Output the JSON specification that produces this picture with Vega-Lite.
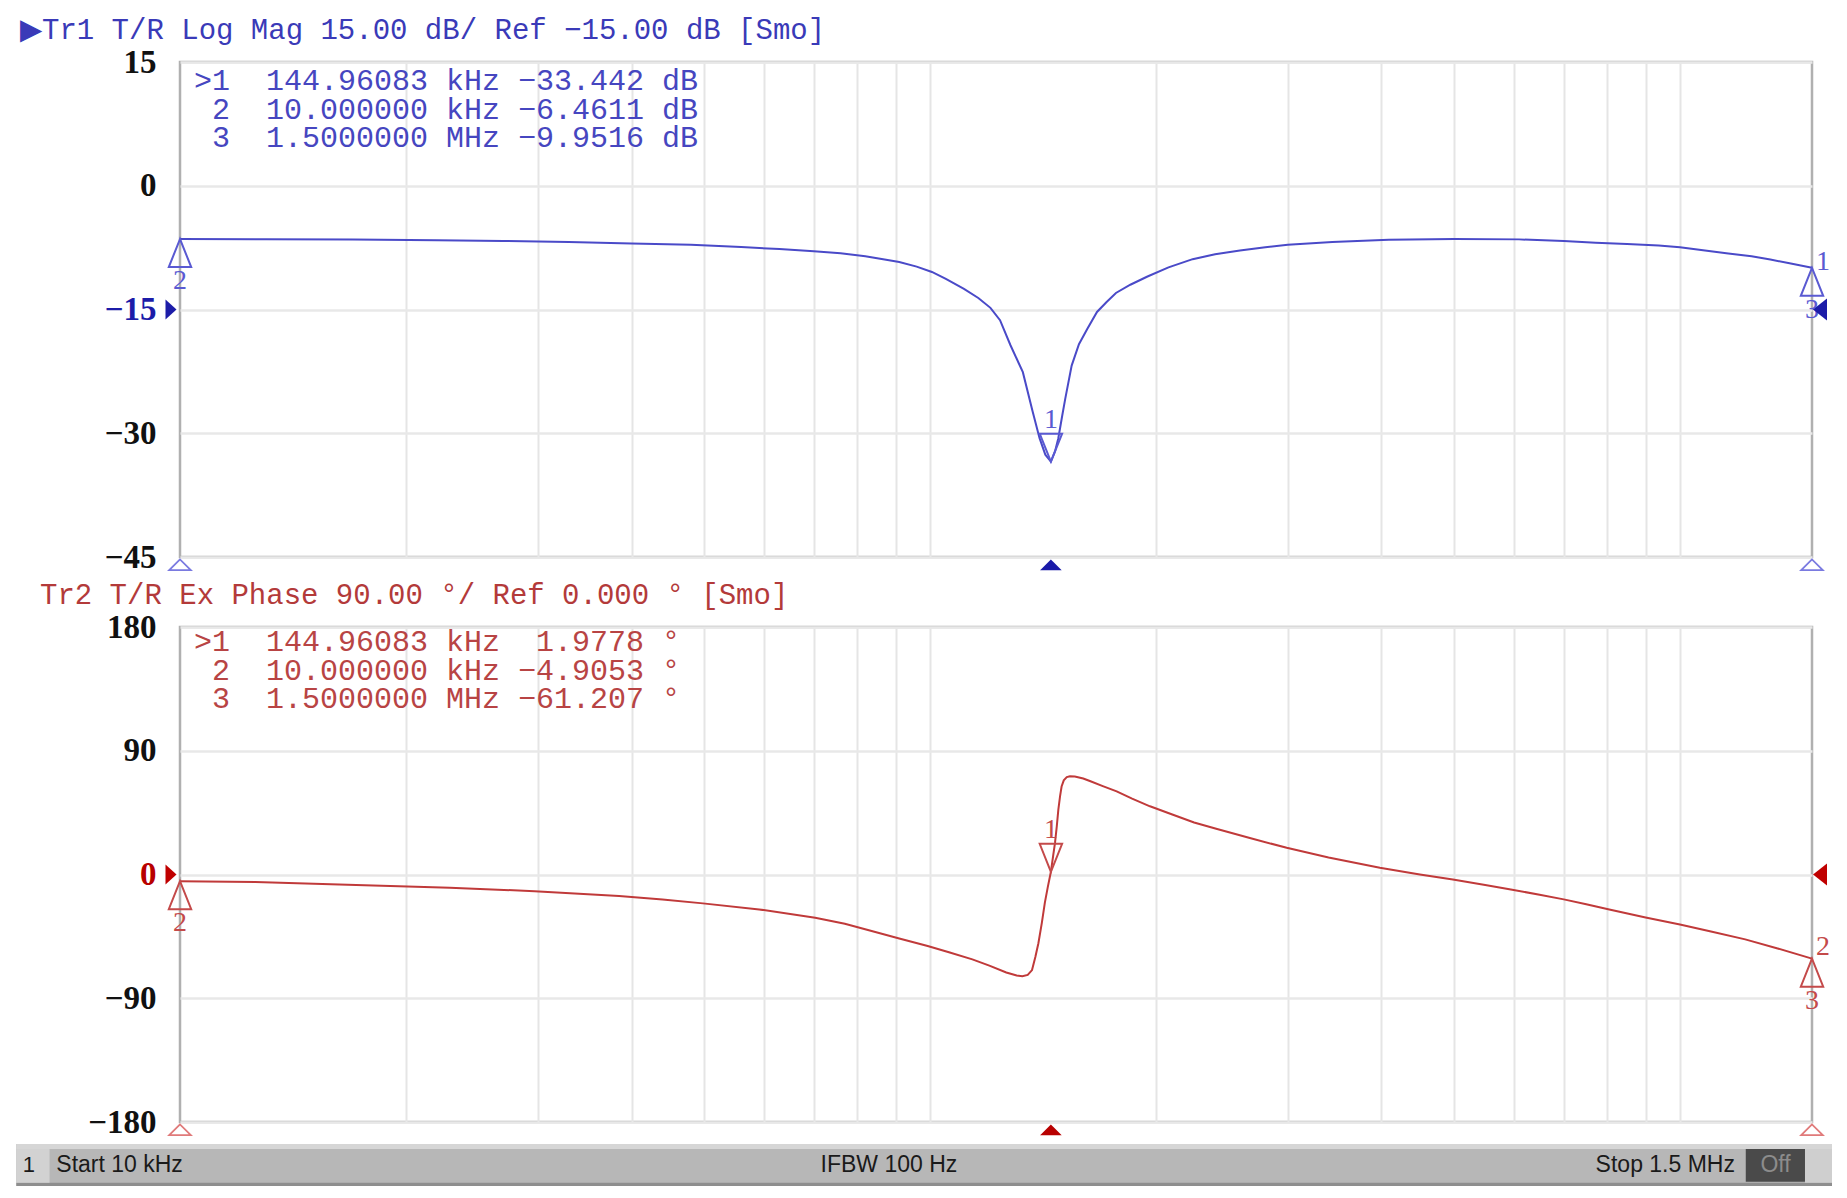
{
  "$schema": "https://vega.github.io/schema/vega-lite/v6.json",
  "background": "white",
  "padding": {"left": 16, "top": 14, "right": 15, "bottom": 16},
  "spacing": 3,
  "resolve": {"scale": {"x": "independent", "y": "independent"}},
  "config": {
    "view": {"stroke": "#b0b0b0", "strokeWidth": 2.5},
    "title": {"font": "Liberation Mono", "fontSize": 29, "fontWeight": "normal", "anchor": "start", "frame": "group", "baseline": "bottom", "offset": 1}
  },
  "datasets": {
    "mag": [
      {"freq": 10000, "db": -6.46}, {"freq": 13000, "db": -6.49}, {"freq": 17000, "db": -6.53}, {"freq": 22000, "db": -6.6},
      {"freq": 27000, "db": -6.7}, {"freq": 33000, "db": -6.82}, {"freq": 40000, "db": -7.0}, {"freq": 48000, "db": -7.15},
      {"freq": 56000, "db": -7.42}, {"freq": 63000, "db": -7.68}, {"freq": 70000, "db": -7.93}, {"freq": 76000, "db": -8.18},
      {"freq": 82000, "db": -8.55}, {"freq": 87000, "db": -8.95}, {"freq": 91000, "db": -9.25}, {"freq": 96000, "db": -9.8},
      {"freq": 100600, "db": -10.45}, {"freq": 105000, "db": -11.3}, {"freq": 111000, "db": -12.5}, {"freq": 116000, "db": -13.6},
      {"freq": 120400, "db": -14.8}, {"freq": 124000, "db": -16.3}, {"freq": 128000, "db": -19.3}, {"freq": 133000, "db": -22.6},
      {"freq": 137000, "db": -27.3}, {"freq": 140000, "db": -30.6}, {"freq": 142500, "db": -32.6}, {"freq": 144960, "db": -33.44},
      {"freq": 146800, "db": -32.2}, {"freq": 148300, "db": -30.6}, {"freq": 150000, "db": -28.0}, {"freq": 151500, "db": -25.8},
      {"freq": 154500, "db": -21.8}, {"freq": 158000, "db": -19.2}, {"freq": 162000, "db": -17.4}, {"freq": 167000, "db": -15.3},
      {"freq": 172000, "db": -14.1}, {"freq": 177000, "db": -13.0}, {"freq": 185000, "db": -12.0}, {"freq": 195000, "db": -11.0},
      {"freq": 208000, "db": -9.9}, {"freq": 224000, "db": -8.9}, {"freq": 240000, "db": -8.3}, {"freq": 259000, "db": -7.85},
      {"freq": 280000, "db": -7.45}, {"freq": 300000, "db": -7.15}, {"freq": 344000, "db": -6.83}, {"freq": 409000, "db": -6.55},
      {"freq": 500000, "db": -6.45}, {"freq": 610000, "db": -6.5}, {"freq": 700000, "db": -6.7}, {"freq": 772000, "db": -6.9},
      {"freq": 850000, "db": -7.05}, {"freq": 937000, "db": -7.24}, {"freq": 1000000, "db": -7.45}, {"freq": 1080000, "db": -7.85},
      {"freq": 1160000, "db": -8.2}, {"freq": 1246000, "db": -8.55}, {"freq": 1320000, "db": -8.95}, {"freq": 1400000, "db": -9.4},
      {"freq": 1500000, "db": -9.95}
    ],
    "phase": [
      {"freq": 10000, "deg": -4.9}, {"freq": 12600, "deg": -5.5}, {"freq": 16300, "deg": -7.3}, {"freq": 22900, "deg": -9.7},
      {"freq": 29700, "deg": -12.1}, {"freq": 38500, "deg": -15.7}, {"freq": 44000, "deg": -18.2}, {"freq": 49800, "deg": -21.0},
      {"freq": 59200, "deg": -25.4}, {"freq": 70300, "deg": -31.4}, {"freq": 77000, "deg": -35.8}, {"freq": 83600, "deg": -41.1},
      {"freq": 91000, "deg": -46.5}, {"freq": 99300, "deg": -52.0}, {"freq": 106000, "deg": -56.6}, {"freq": 113900, "deg": -61.7},
      {"freq": 120000, "deg": -66.3}, {"freq": 126400, "deg": -71.3}, {"freq": 130500, "deg": -73.5}, {"freq": 132800, "deg": -74.0},
      {"freq": 135000, "deg": -73.0}, {"freq": 136800, "deg": -69.5}, {"freq": 138200, "deg": -60.0}, {"freq": 139500, "deg": -50.0},
      {"freq": 141000, "deg": -35.0}, {"freq": 142300, "deg": -20.5}, {"freq": 143600, "deg": -9.0}, {"freq": 144960, "deg": 1.98},
      {"freq": 146000, "deg": 14.0}, {"freq": 146800, "deg": 23.0}, {"freq": 147600, "deg": 35.0}, {"freq": 148300, "deg": 47.0},
      {"freq": 149100, "deg": 57.0}, {"freq": 149800, "deg": 64.0}, {"freq": 150800, "deg": 68.5}, {"freq": 152200, "deg": 70.8},
      {"freq": 153700, "deg": 71.4}, {"freq": 156000, "deg": 71.2}, {"freq": 160100, "deg": 69.8}, {"freq": 163700, "deg": 67.8},
      {"freq": 170000, "deg": 64.3}, {"freq": 177400, "deg": 60.5}, {"freq": 186000, "deg": 55.2}, {"freq": 196500, "deg": 49.6},
      {"freq": 210000, "deg": 43.8}, {"freq": 225000, "deg": 37.8}, {"freq": 240800, "deg": 33.3}, {"freq": 267000, "deg": 26.5},
      {"freq": 299000, "deg": 19.4}, {"freq": 340000, "deg": 12.4}, {"freq": 398000, "deg": 4.9}, {"freq": 450000, "deg": 0.0},
      {"freq": 498000, "deg": -3.6}, {"freq": 550000, "deg": -7.6}, {"freq": 595000, "deg": -10.9}, {"freq": 650000, "deg": -14.7},
      {"freq": 700000, "deg": -18.1}, {"freq": 750000, "deg": -21.6}, {"freq": 805000, "deg": -25.4}, {"freq": 900000, "deg": -31.2},
      {"freq": 1000000, "deg": -36.3}, {"freq": 1100000, "deg": -41.4}, {"freq": 1222000, "deg": -47.2}, {"freq": 1350000, "deg": -53.8},
      {"freq": 1500000, "deg": -61.2}
    ],
    "magMarkers": [
      {"id": "1", "freq": 144960.83, "db": -33.442},
      {"id": "2", "freq": 10000, "db": -6.4611},
      {"id": "3", "freq": 1500000, "db": -9.9516}
    ],
    "phaseMarkers": [
      {"id": "1", "freq": 144960.83, "deg": 1.9778},
      {"id": "2", "freq": 10000, "deg": -4.9053},
      {"id": "3", "freq": 1500000, "deg": -61.207}
    ],
    "stim": [
      {"freq": 10000, "kind": "start"},
      {"freq": 144960.83, "kind": "active"},
      {"freq": 1500000, "kind": "stop"}
    ],
    "magRef": [
      {"freq": 10000, "db": -15, "side": "left"},
      {"freq": 1500000, "db": -15, "side": "right"}
    ],
    "phaseRef": [
      {"freq": 10000, "deg": 0, "side": "left"},
      {"freq": 1500000, "deg": 0, "side": "right"}
    ]
  },
  "vconcat": [
    {
      "width": 1632,
      "height": 495,
      "title": {"text": "▶Tr1 T/R Log Mag 15.00 dB/ Ref −15.00 dB [Smo]", "color": "#3a3ab8", "dx": -160},
      "layer": [
        {
          "data": {"name": "mag"},
          "mark": {"type": "line", "color": "#4a4ac8", "strokeWidth": 2},
          "encoding": {
            "x": {"field": "freq", "type": "quantitative", "scale": {"type": "log", "domain": [10000, 1500000], "nice": false},
              "axis": {"values": [20000, 30000, 40000, 50000, 60000, 70000, 80000, 90000, 100000, 200000, 300000, 400000, 500000, 600000, 700000, 800000, 900000, 1000000],
                "grid": true, "gridColor": "#e5e5e5", "gridWidth": 2, "labels": false, "ticks": false, "domain": false, "title": null}},
            "y": {"field": "db", "type": "quantitative", "scale": {"domain": [-45, 15], "nice": false, "zero": false},
              "axis": {"values": [-45, -30, -15, 0, 15], "grid": true, "gridColor": "#e8e8e8", "gridWidth": 2.5, "ticks": false, "tickSize": 0, "domain": false, "title": null,
                "labelFont": "Liberation Serif", "labelFontWeight": "bold", "labelFontSize": 33, "labelPadding": 24, "labelOverlap": false, "labelFlush": false, "labelBound": false, "labelBaseline": "middle",
                "labelColor": {"condition": {"test": "datum.value === -15", "value": "#1c1ca8"}, "value": "#111111"}}}
          }
        },
        {
          "data": {"name": "magMarkers"},
          "transform": [{"filter": "datum.id === '1'"}],
          "mark": {"type": "point", "shape": "M0,0L-0.8,-2L0.8,-2Z", "size": 784, "filled": false, "stroke": "#5a5ad2", "strokeWidth": 2, "opacity": 1},
          "encoding": {"x": {"field": "freq", "type": "quantitative"}, "y": {"field": "db", "type": "quantitative"}}
        },
        {
          "data": {"name": "magMarkers"},
          "transform": [{"filter": "datum.id !== '1'"}],
          "mark": {"type": "point", "shape": "M0,0L-0.8,2L0.8,2Z", "size": 784, "filled": false, "stroke": "#5a5ad2", "strokeWidth": 2, "opacity": 1},
          "encoding": {"x": {"field": "freq", "type": "quantitative"}, "y": {"field": "db", "type": "quantitative"}}
        },
        {
          "data": {"name": "magMarkers"},
          "transform": [{"filter": "datum.id === '1'"}],
          "mark": {"type": "text", "font": "Liberation Serif", "fontSize": 28, "color": "#5a5ad2", "baseline": "middle", "dy": -42},
          "encoding": {"x": {"field": "freq", "type": "quantitative"}, "y": {"field": "db", "type": "quantitative"}, "text": {"field": "id"}}
        },
        {
          "data": {"name": "magMarkers"},
          "transform": [{"filter": "datum.id !== '1'"}],
          "mark": {"type": "text", "font": "Liberation Serif", "fontSize": 28, "color": "#5a5ad2", "baseline": "middle", "dy": 42},
          "encoding": {"x": {"field": "freq", "type": "quantitative"}, "y": {"field": "db", "type": "quantitative"}, "text": {"field": "id"}}
        },
        {
          "data": {"name": "magMarkers"},
          "transform": [{"filter": "datum.id === '3'"}],
          "mark": {"type": "text", "text": "1", "font": "Liberation Serif", "fontSize": 28, "color": "#5a5ad2", "baseline": "middle", "align": "left", "dx": 4, "dy": -6},
          "encoding": {"x": {"field": "freq", "type": "quantitative"}, "y": {"field": "db", "type": "quantitative"}}
        },
        {
          "data": {"name": "stim"},
          "transform": [{"filter": "datum.kind !== 'active'"}],
          "mark": {"type": "point", "shape": "M0,0.2L-0.9,1.1L0.9,1.1Z", "size": 576, "filled": false, "stroke": "#7a7ae0", "strokeWidth": 1.8, "opacity": 1},
          "encoding": {"x": {"field": "freq", "type": "quantitative"}, "y": {"datum": -45, "type": "quantitative"}}
        },
        {
          "data": {"name": "stim"},
          "transform": [{"filter": "datum.kind === 'active'"}],
          "mark": {"type": "point", "shape": "M0,0.2L-0.9,1.1L0.9,1.1Z", "size": 576, "filled": true, "color": "#1a1aa8", "opacity": 1},
          "encoding": {"x": {"field": "freq", "type": "quantitative"}, "y": {"datum": -45, "type": "quantitative"}}
        },
        {
          "data": {"name": "magRef"},
          "transform": [{"filter": "datum.side === 'left'"}],
          "mark": {"type": "point", "shape": "M-0.35,0L-1.45,-1L-1.45,1Z", "size": 400, "filled": true, "color": "#1c1ca8", "opacity": 1},
          "encoding": {"x": {"field": "freq", "type": "quantitative"}, "y": {"field": "db", "type": "quantitative"}}
        },
        {
          "data": {"name": "magRef"},
          "transform": [{"filter": "datum.side === 'right'"}],
          "mark": {"type": "point", "shape": "M0.1,0L1.5,-1.1L1.5,1.1Z", "size": 400, "filled": true, "color": "#1c1ca8", "opacity": 1},
          "encoding": {"x": {"field": "freq", "type": "quantitative"}, "y": {"field": "db", "type": "quantitative"}}
        },
        {
          "data": {"values": [{"table": "marker readout"}]},
          "mark": {"type": "text", "text": [">1\u00a0\u00a0144.96083\u00a0kHz\u00a0−33.442\u00a0dB", "\u200b\u00a02\u00a0\u00a010.000000\u00a0kHz\u00a0−6.4611\u00a0dB", "\u200b\u00a03\u00a0\u00a01.5000000\u00a0MHz\u00a0−9.9516\u00a0dB"],
            "align": "left", "baseline": "top", "font": "Liberation Mono", "fontSize": 30, "lineHeight": 28.5, "color": "#4646c0", "dx": 14, "dy": 4},
          "encoding": {"x": {"datum": 10000, "type": "quantitative"}, "y": {"datum": 15, "type": "quantitative"}}
        }
      ]
    },
    {
      "width": 1632,
      "height": 495,
      "title": {"text": "Tr2 T/R Ex Phase 90.00 °/ Ref 0.000 ° [Smo]", "color": "#b33a3a", "dx": -140},
      "layer": [
        {
          "data": {"name": "phase"},
          "mark": {"type": "line", "color": "#c03a3a", "strokeWidth": 2},
          "encoding": {
            "x": {"field": "freq", "type": "quantitative", "scale": {"type": "log", "domain": [10000, 1500000], "nice": false},
              "axis": {"values": [20000, 30000, 40000, 50000, 60000, 70000, 80000, 90000, 100000, 200000, 300000, 400000, 500000, 600000, 700000, 800000, 900000, 1000000],
                "grid": true, "gridColor": "#e5e5e5", "gridWidth": 2, "labels": false, "ticks": false, "domain": false, "title": null}},
            "y": {"field": "deg", "type": "quantitative", "scale": {"domain": [-180, 180], "nice": false, "zero": false},
              "axis": {"values": [-180, -90, 0, 90, 180], "grid": true, "gridColor": "#e8e8e8", "gridWidth": 2.5, "ticks": false, "tickSize": 0, "domain": false, "title": null,
                "labelFont": "Liberation Serif", "labelFontWeight": "bold", "labelFontSize": 33, "labelPadding": 24, "labelOverlap": false, "labelFlush": false, "labelBound": false, "labelBaseline": "middle",
                "labelColor": {"condition": {"test": "datum.value === 0", "value": "#b80000"}, "value": "#111111"}}}
          }
        },
        {
          "data": {"name": "phaseMarkers"},
          "transform": [{"filter": "datum.id === '1'"}],
          "mark": {"type": "point", "shape": "M0,0L-0.8,-2L0.8,-2Z", "size": 784, "filled": false, "stroke": "#c44a4a", "strokeWidth": 2, "opacity": 1},
          "encoding": {"x": {"field": "freq", "type": "quantitative"}, "y": {"field": "deg", "type": "quantitative"}}
        },
        {
          "data": {"name": "phaseMarkers"},
          "transform": [{"filter": "datum.id !== '1'"}],
          "mark": {"type": "point", "shape": "M0,0L-0.8,2L0.8,2Z", "size": 784, "filled": false, "stroke": "#c44a4a", "strokeWidth": 2, "opacity": 1},
          "encoding": {"x": {"field": "freq", "type": "quantitative"}, "y": {"field": "deg", "type": "quantitative"}}
        },
        {
          "data": {"name": "phaseMarkers"},
          "transform": [{"filter": "datum.id === '1'"}],
          "mark": {"type": "text", "font": "Liberation Serif", "fontSize": 28, "color": "#c44a4a", "baseline": "middle", "dy": -42},
          "encoding": {"x": {"field": "freq", "type": "quantitative"}, "y": {"field": "deg", "type": "quantitative"}, "text": {"field": "id"}}
        },
        {
          "data": {"name": "phaseMarkers"},
          "transform": [{"filter": "datum.id !== '1'"}],
          "mark": {"type": "text", "font": "Liberation Serif", "fontSize": 28, "color": "#c44a4a", "baseline": "middle", "dy": 42},
          "encoding": {"x": {"field": "freq", "type": "quantitative"}, "y": {"field": "deg", "type": "quantitative"}, "text": {"field": "id"}}
        },
        {
          "data": {"name": "phaseMarkers"},
          "transform": [{"filter": "datum.id === '3'"}],
          "mark": {"type": "text", "text": "2", "font": "Liberation Serif", "fontSize": 28, "color": "#c44a4a", "baseline": "middle", "align": "left", "dx": 4, "dy": -12},
          "encoding": {"x": {"field": "freq", "type": "quantitative"}, "y": {"field": "deg", "type": "quantitative"}}
        },
        {
          "data": {"name": "stim"},
          "transform": [{"filter": "datum.kind !== 'active'"}],
          "mark": {"type": "point", "shape": "M0,0.2L-0.9,1.1L0.9,1.1Z", "size": 576, "filled": false, "stroke": "#e07a7a", "strokeWidth": 1.8, "opacity": 1},
          "encoding": {"x": {"field": "freq", "type": "quantitative"}, "y": {"datum": -180, "type": "quantitative"}}
        },
        {
          "data": {"name": "stim"},
          "transform": [{"filter": "datum.kind === 'active'"}],
          "mark": {"type": "point", "shape": "M0,0.2L-0.9,1.1L0.9,1.1Z", "size": 576, "filled": true, "color": "#b80000", "opacity": 1},
          "encoding": {"x": {"field": "freq", "type": "quantitative"}, "y": {"datum": -180, "type": "quantitative"}}
        },
        {
          "data": {"name": "phaseRef"},
          "transform": [{"filter": "datum.side === 'left'"}],
          "mark": {"type": "point", "shape": "M-0.35,0L-1.45,-1L-1.45,1Z", "size": 400, "filled": true, "color": "#c00000", "opacity": 1},
          "encoding": {"x": {"field": "freq", "type": "quantitative"}, "y": {"field": "deg", "type": "quantitative"}}
        },
        {
          "data": {"name": "phaseRef"},
          "transform": [{"filter": "datum.side === 'right'"}],
          "mark": {"type": "point", "shape": "M0.1,0L1.5,-1.1L1.5,1.1Z", "size": 400, "filled": true, "color": "#c00000", "opacity": 1},
          "encoding": {"x": {"field": "freq", "type": "quantitative"}, "y": {"field": "deg", "type": "quantitative"}}
        },
        {
          "data": {"values": [{"table": "marker readout"}]},
          "mark": {"type": "text", "text": [">1\u00a0\u00a0144.96083\u00a0kHz\u00a0\u00a01.9778\u00a0°", "\u200b\u00a02\u00a0\u00a010.000000\u00a0kHz\u00a0−4.9053\u00a0°", "\u200b\u00a03\u00a0\u00a01.5000000\u00a0MHz\u00a0−61.207\u00a0°"],
            "align": "left", "baseline": "top", "font": "Liberation Mono", "fontSize": 30, "lineHeight": 28.5, "color": "#b84444", "dx": 14, "dy": 0},
          "encoding": {"x": {"datum": 10000, "type": "quantitative"}, "y": {"datum": 180, "type": "quantitative"}}
        }
      ]
    },
    {
      "width": 1632,
      "height": 42,
      "view": {"stroke": null},
      "data": {"values": [{"bar": "status"}]},
      "layer": [
        {
          "mark": {"type": "rect", "color": "#b7b7b7"},
          "encoding": {
            "x": {"datum": 6050, "type": "quantitative", "scale": {"type": "log", "domain": [10000, 1500000], "nice": false}, "axis": null},
            "x2": {"datum": 1595000},
            "y": {"datum": 0, "type": "quantitative", "scale": {"domain": [0, 1], "nice": false}, "axis": null},
            "y2": {"datum": 1}
          }
        },
        {
          "mark": {"type": "rect", "color": "#d6d6d6"},
          "encoding": {"x": {"datum": 6050, "type": "quantitative"}, "x2": {"datum": 1595000}, "y": {"datum": 0.88, "type": "quantitative"}, "y2": {"datum": 1}}
        },
        {
          "mark": {"type": "rect", "color": "#8e8e8e"},
          "encoding": {"x": {"datum": 6050, "type": "quantitative"}, "x2": {"datum": 1595000}, "y": {"datum": 0, "type": "quantitative"}, "y2": {"datum": 0.08}}
        },
        {
          "mark": {"type": "rect", "color": "#d2d2d2"},
          "encoding": {"x": {"datum": 6050, "type": "quantitative"}, "x2": {"datum": 6700}, "y": {"datum": 0.08, "type": "quantitative"}, "y2": {"datum": 0.88}}
        },
        {
          "mark": {"type": "rect", "color": "#cfcfcf"},
          "encoding": {"x": {"datum": 1468000, "type": "quantitative"}, "x2": {"datum": 1595000}, "y": {"datum": 0.08, "type": "quantitative"}, "y2": {"datum": 0.88}}
        },
        {
          "mark": {"type": "rect", "color": "#4a4a4a"},
          "encoding": {"x": {"datum": 1224000, "type": "quantitative"}, "x2": {"datum": 1468000}, "y": {"datum": 0.1, "type": "quantitative"}, "y2": {"datum": 0.88}}
        },
        {
          "mark": {"type": "text", "text": "1", "align": "center", "baseline": "middle", "font": "Liberation Sans", "fontSize": 22, "color": "#1a1a1a"},
          "encoding": {"x": {"datum": 6290, "type": "quantitative"}, "y": {"datum": 0.5, "type": "quantitative"}}
        },
        {
          "mark": {"type": "text", "text": "Start 10 kHz", "align": "left", "baseline": "middle", "font": "Liberation Sans", "fontSize": 23, "color": "#1a1a1a"},
          "encoding": {"x": {"datum": 6840, "type": "quantitative"}, "y": {"datum": 0.5, "type": "quantitative"}}
        },
        {
          "mark": {"type": "text", "text": "IFBW 100 Hz", "align": "center", "baseline": "middle", "font": "Liberation Sans", "fontSize": 23, "color": "#1a1a1a"},
          "encoding": {"x": {"datum": 88160, "type": "quantitative"}, "y": {"datum": 0.5, "type": "quantitative"}}
        },
        {
          "mark": {"type": "text", "text": "Stop 1.5 MHz", "align": "right", "baseline": "middle", "font": "Liberation Sans", "fontSize": 23, "color": "#1a1a1a"},
          "encoding": {"x": {"datum": 1184000, "type": "quantitative"}, "y": {"datum": 0.5, "type": "quantitative"}}
        },
        {
          "mark": {"type": "text", "text": "Off", "align": "center", "baseline": "middle", "font": "Liberation Sans", "fontSize": 23, "color": "#8c8c8c"},
          "encoding": {"x": {"datum": 1341000, "type": "quantitative"}, "y": {"datum": 0.5, "type": "quantitative"}}
        }
      ]
    }
  ]
}
